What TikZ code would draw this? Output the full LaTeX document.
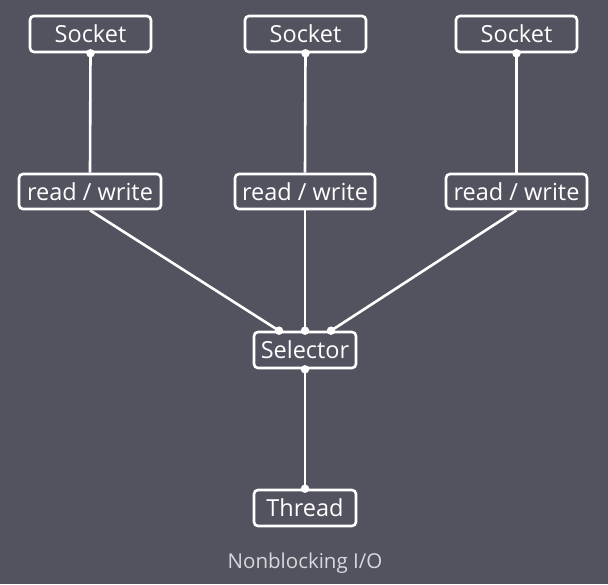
\documentclass[tikz,border=0pt]{standalone}
\usepackage{fontspec}
\setmainfont{Open Sans}
\definecolor{bg}{HTML}{52535F}
\definecolor{cap}{HTML}{D8D8DC}
\begin{document}
\begin{tikzpicture}[x=1pt,y=-1pt,
  box/.style={draw=white,line width=2.6pt,rounded corners=4pt,text=white,font=\fontsize{23.5}{26}\selectfont,inner sep=0pt,anchor=center},
  link/.style={draw=white,line width=2.6pt},
  dot/.style={circle,fill=white,inner sep=0pt,minimum size=8.5pt}]
\fill[bg] (0,0) rectangle (608,584);
\useasboundingbox (0,0) rectangle (608,584);
\node[box,minimum width=121pt,minimum height=36pt] (s1) at (90.5,34) {Socket};
\node[box,minimum width=121pt,minimum height=36pt] (s2) at (305.5,34) {Socket};
\node[box,minimum width=121pt,minimum height=36pt] (s3) at (516.5,34) {Socket};
\node[box,minimum width=142pt,minimum height=35pt] (r1) at (90,191.5) {read / write};
\node[box,minimum width=140pt,minimum height=35pt] (r2) at (305,191.5) {read / write};
\node[box,minimum width=141pt,minimum height=35pt] (r3) at (516.5,191.5) {read / write};
\node[box,minimum width=102pt,minimum height=36pt] (sel) at (305,350) {Selector};
\node[box,minimum width=102pt,minimum height=36pt] (th) at (305,508) {Thread};
\node[text=cap,font=\fontsize{20.5}{24}\selectfont] (capt) at (305,563) {Nonblocking I/O};
\coordinate (d1) at ([xshift=-26pt]sel.north);
\coordinate (d3) at ([xshift=26pt]sel.north);
\draw[link] (s1.south) -- (r1.north);
\draw[link] (s2.south) -- (r2.north);
\draw[link] (s3.south) -- (r3.north);
\draw[link] (r1.south) -- (d1);
\draw[link] (r2.south) -- (sel.north);
\draw[link] (r3.south) -- (d3);
\draw[link] (sel.south) -- (th.north);
\node[dot] at (s1.south) {};
\node[dot] at (s2.south) {};
\node[dot] at (s3.south) {};
\node[dot] at (d1) {};
\node[dot] at (sel.north) {};
\node[dot] at (d3) {};
\node[dot] at (sel.south) {};
\node[dot] at (th.north) {};
\end{tikzpicture}
\end{document}
